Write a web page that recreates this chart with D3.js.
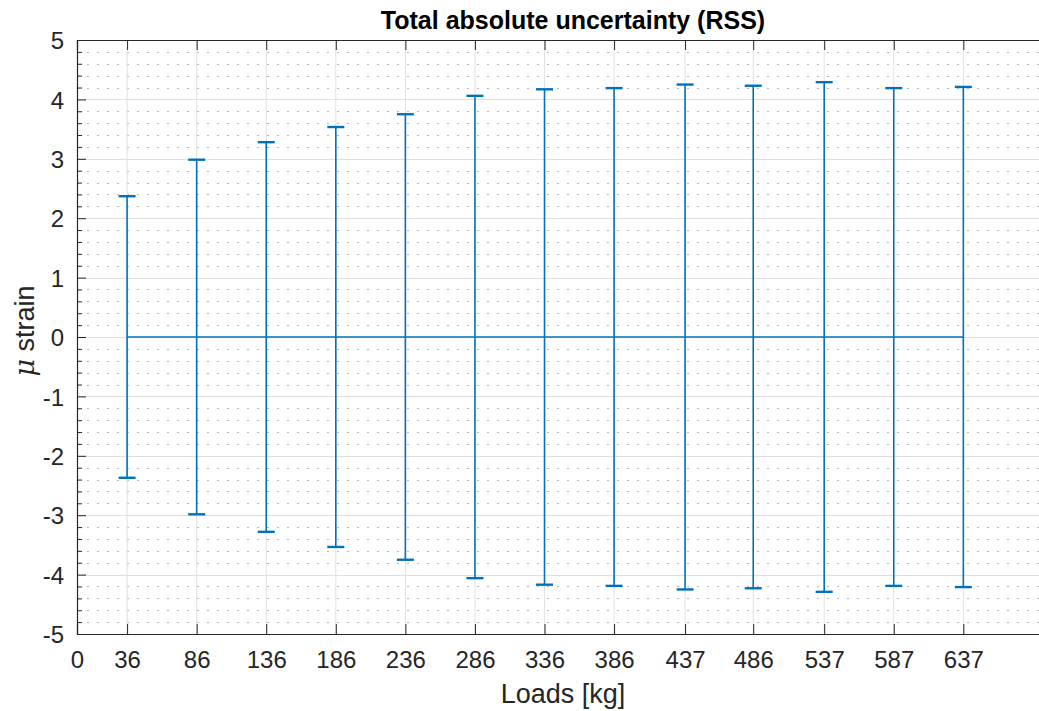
<!DOCTYPE html>
<html>
<head>
<meta charset="utf-8">
<script src="https://cdn.jsdelivr.net/npm/d3@7"></script>
<style>
  html, body { margin: 0; padding: 0; background: #fff; }
  svg { display: block; font-family: "Liberation Sans", Arial, Helvetica, sans-serif; }
</style>
</head>
<body>
<svg id="chart" width="1039" height="711"></svg>
<script>
// Applied loads in kg (x positions and tick labels)
const loads = [36, 86, 136, 186, 236, 286, 336, 386, 437, 486, 537, 587, 637];
// Mean strain offset at each load (plotted at zero)
const centre = [0, 0, 0, 0, 0, 0, 0, 0, 0, 0, 0, 0, 0];
// Total absolute uncertainty (RSS), in micro-strain
const uncertainty = [2.37, 2.985, 3.28, 3.535, 3.75, 4.06, 4.17, 4.19, 4.25, 4.23, 4.29, 4.19, 4.21];
// Axis tick labels
const xTicks = [0].concat(loads);
const yTicks = [5, 4, 3, 2, 1, 0, -1, -2, -3, -4, -5];

const svg = d3.select("#chart");
const plotLeft = 77, plotTop = 40, plotBottom = 634, plotRight = 1051;

const x = d3.scaleLinear().domain([0, 700]).range([plotLeft, plotRight]);
const y = d3.scaleLinear().domain([-5, 5]).range([plotBottom, plotTop]);

const blue = "#0072BD";
const axisColor = "#262626";
const tickFont = 24;
const plainInt = d => String(d);   // hyphen-minus, as MATLAB prints it

const plot = svg.append("g");

// Minor horizontal grid (dotted) every 0.2
const minorY = d3.range(-50, 51, 2).map(v => v / 10).filter(v => Math.abs(v % 1) > 1e-9);
plot.append("g").selectAll("line").data(minorY).join("line")
  .attr("x1", plotLeft).attr("x2", plotRight)
  .attr("y1", d => Math.round(y(d)) + 0.5).attr("y2", d => Math.round(y(d)) + 0.5)
  .attr("stroke", "#b8b8b8").attr("stroke-width", 1)
  .attr("stroke-dasharray", "2,8");

// Major grid
plot.append("g").selectAll("line").data(yTicks).join("line")
  .attr("x1", plotLeft).attr("x2", plotRight)
  .attr("y1", d => Math.round(y(d)) + 0.5).attr("y2", d => Math.round(y(d)) + 0.5)
  .attr("stroke", "#e0e0e0").attr("stroke-width", 1);
plot.append("g").selectAll("line").data(loads).join("line")
  .attr("x1", d => x(d)).attr("x2", d => x(d))
  .attr("y1", plotTop).attr("y2", plotBottom)
  .attr("stroke", "#e0e0e0").attr("stroke-width", 1);

// Axes via d3 axis generators (inward ticks)
const yAxis = d3.axisLeft(y).tickValues(yTicks).tickSize(-9).tickPadding(13).tickFormat(plainInt);
const gy = svg.append("g").attr("transform", `translate(${plotLeft},0)`).call(yAxis);
gy.select(".domain").attr("stroke", axisColor).attr("stroke-width", 1.2);
gy.selectAll(".tick line").attr("stroke", axisColor);
gy.selectAll(".tick text").attr("font-size", tickFont).attr("fill", "#262626")
  .attr("font-family", "Liberation Sans, Arial, sans-serif").attr("dy", "0.36em");

// Minor y ticks
const yMinorAxis = d3.axisLeft(y).tickValues(minorY).tickSize(-5).tickFormat("");
const gym = svg.append("g").attr("transform", `translate(${plotLeft},0)`).call(yMinorAxis);
gym.select(".domain").remove();
gym.selectAll(".tick line").attr("stroke", axisColor);

const xAxis = d3.axisBottom(x).tickValues(xTicks).tickSize(-10).tickPadding(17).tickFormat(plainInt);
const gx = svg.append("g").attr("transform", `translate(0,${plotBottom})`).call(xAxis);
gx.select(".domain").attr("stroke", axisColor).attr("stroke-width", 1.2);
gx.selectAll(".tick line").attr("stroke", axisColor);
gx.selectAll(".tick text").attr("font-size", tickFont).attr("fill", "#262626")
  .attr("font-family", "Liberation Sans, Arial, sans-serif");

const xTopAxis = d3.axisTop(x).tickValues(xTicks).tickSize(-10).tickFormat("");
const gxt = svg.append("g").attr("transform", `translate(0,${plotTop})`).call(xTopAxis);
gxt.select(".domain").attr("stroke", axisColor).attr("stroke-width", 1.2);
gxt.selectAll(".tick line").attr("stroke", axisColor);

// Error bars
const pts = loads.map((l, i) => ({ x: l, y: centre[i], e: uncertainty[i] }));
const capHalf = 8.5;

const eb = svg.append("g");
eb.selectAll("line.v").data(pts).join("line").attr("class", "v")
  .attr("x1", d => x(d.x)).attr("x2", d => x(d.x))
  .attr("y1", d => y(d.y + d.e)).attr("y2", d => y(d.y - d.e))
  .attr("stroke", blue).attr("stroke-width", 1.6);
eb.selectAll("line.ct").data(pts).join("line").attr("class", "ct")
  .attr("x1", d => x(d.x) - capHalf).attr("x2", d => x(d.x) + capHalf)
  .attr("y1", d => y(d.y + d.e)).attr("y2", d => y(d.y + d.e))
  .attr("stroke", blue).attr("stroke-width", 2.4);
eb.selectAll("line.cb").data(pts).join("line").attr("class", "cb")
  .attr("x1", d => x(d.x) - capHalf).attr("x2", d => x(d.x) + capHalf)
  .attr("y1", d => y(d.y - d.e)).attr("y2", d => y(d.y - d.e))
  .attr("stroke", blue).attr("stroke-width", 2.4);

// Connecting line through the centre values
eb.append("path").datum(pts)
  .attr("fill", "none").attr("stroke", blue).attr("stroke-width", 1.6)
  .attr("d", d3.line().x(d => x(d.x)).y(d => y(d.y)));

// Title and axis labels
svg.append("text").attr("x", 573).attr("y", 29).attr("text-anchor", "middle")
  .attr("font-size", 25).attr("font-weight", "bold").attr("fill", "#000")
  .text("Total absolute uncertainty (RSS)");

svg.append("text").attr("x", 563).attr("y", 703).attr("text-anchor", "middle")
  .attr("font-size", 27).attr("fill", "#262626")
  .text("Loads [kg]");

const yl = svg.append("text")
  .attr("transform", "translate(34,331) rotate(-90)")
  .attr("text-anchor", "middle").attr("font-size", 27).attr("fill", "#262626");
yl.append("tspan").attr("font-style", "italic").attr("font-family", "DejaVu Serif, serif").text("\u03BC");
yl.append("tspan").text(" strain");
</script>
</body>
</html>
